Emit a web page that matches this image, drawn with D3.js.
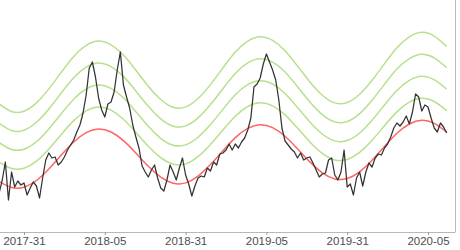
<!DOCTYPE html>
<html>
<head>
<meta charset="utf-8">
<script src="https://cdn.jsdelivr.net/npm/d3@7"></script>
<style>
  html, body { margin: 0; padding: 0; background: #fff; }
  svg { display: block; }
</style>
</head>
<body>
<svg id="chart" width="460" height="250"></svg>
<script>
// ---- data (week index 0 = 2017-31) ----
const tickLabels = ["2017-31", "2018-05", "2018-31", "2019-05", "2019-31", "2020-05"];
const tickWeeks = [0, 26, 52, 78, 104, 130];

// observed weekly series, starting at week index -8
const obsStart = -8;
const observed = [
  39, 52, 70, 32, 60, 45, 51, 47, 49, 37, 44, 50, 46, 34, 54, 72,
  79, 74, 75, 67, 70, 75, 82, 87, 92, 100, 107, 119, 137, 164, 170, 155,
  134, 122, 115, 128, 130, 140, 162, 180, 147, 135, 124, 107, 95, 84, 66, 60,
  55, 62, 67, 54, 44, 41, 52, 67, 60, 52, 64, 74, 57, 48, 36, 46,
  54, 56, 55, 64, 61, 70, 67, 78, 79, 82, 88, 82, 88, 84, 90, 94,
  102, 114, 145, 148, 154, 168, 178, 170, 162, 152, 132, 104, 91, 87, 83, 80,
  74, 79, 72, 74, 75, 69, 62, 55, 58, 59, 72, 74, 57, 52, 60, 82,
  45, 48, 37, 54, 60, 46, 60, 69, 65, 74, 78, 77, 84, 88, 95, 104,
  109, 106, 110, 116, 108, 120, 138, 135, 121, 127, 125, 114, 104, 100, 109, 105,
  99
];

// seasonal baseline and thresholds, sampled every 4 weeks from week index -8
const curveStart = -8;
const curveStep = 4;
const baseline = [50.5, 44.5, 44.8, 51.5, 63.1, 76.9, 90.0, 99.4, 103.0, 100.0, 91.4, 78.9, 65.7, 54.9, 48.8, 49.1, 55.9, 67.4, 81.2, 94.4, 103.7, 107.3, 104.4, 95.7, 83.2, 70.1, 59.2, 53.1, 53.5, 60.2, 71.7, 85.6, 98.7, 108.0, 111.7, 108.7, 100.0];
const threshold1 = [69.9, 63.5, 63.8, 70.9, 83.1, 97.6, 111.4, 121.2, 125.0, 121.8, 112.8, 99.6, 85.7, 74.3, 67.8, 68.1, 75.3, 87.4, 101.9, 115.8, 125.5, 129.3, 126.2, 117.1, 103.9, 90.1, 78.6, 72.1, 72.5, 79.6, 91.7, 106.3, 120.1, 129.8, 133.7, 130.5, 121.4];
const threshold2 = [89.3, 82.5, 82.8, 90.3, 103.1, 118.3, 132.8, 143.0, 147.0, 143.6, 134.2, 120.3, 105.7, 93.7, 86.8, 87.1, 94.7, 107.4, 122.6, 137.2, 147.3, 151.3, 148.0, 138.5, 124.6, 110.1, 98.0, 91.1, 91.5, 99.0, 111.7, 127.0, 141.5, 151.6, 155.7, 152.3, 142.8];
const threshold3 = [108.7, 101.5, 101.8, 109.7, 123.1, 139.0, 154.2, 164.8, 169.0, 165.4, 155.6, 141.0, 125.7, 113.1, 105.8, 106.1, 114.1, 127.4, 143.3, 158.6, 169.1, 173.3, 169.8, 159.9, 145.3, 130.1, 117.4, 110.1, 110.5, 118.4, 131.7, 147.7, 162.9, 173.4, 177.7, 174.1, 164.2];
const threshold4 = [128.1, 120.5, 120.8, 129.1, 143.1, 159.7, 175.6, 186.6, 191.0, 187.2, 177.0, 161.7, 145.7, 132.5, 124.8, 125.1, 133.5, 147.4, 164.0, 180.0, 190.9, 195.3, 191.6, 181.3, 166.0, 150.1, 136.8, 129.1, 129.5, 137.8, 151.7, 168.4, 184.3, 195.2, 199.7, 195.9, 185.6];

// ---- drawing ----
const svg = d3.select("#chart");
const panelRight = 455.5, panelBottom = 232;

const x = d3.scaleLinear().domain([0, 130]).range([24, 428]);
const y = d3.scaleLinear().domain([0, 232]).range([panelBottom, 0]);

const obsData = observed.map((v, k) => ({ w: obsStart + k, v }));
const toCurve = arr => arr.map((v, k) => ({ w: curveStart + k * curveStep, v }));

const smooth = d3.line().x(d => x(d.w)).y(d => y(d.v)).curve(d3.curveNatural);
const straight = d3.line().x(d => x(d.w)).y(d => y(d.v));

const g = svg.append("g");

[threshold1, threshold2, threshold3, threshold4].forEach(t => {
  g.append("path")
    .attr("d", smooth(toCurve(t)))
    .attr("fill", "none")
    .attr("stroke", "#b8e08e")
    .attr("stroke-width", 1.5);
});

g.append("path")
  .attr("d", smooth(toCurve(baseline)))
  .attr("fill", "none")
  .attr("stroke", "#ff6565")
  .attr("stroke-width", 1.5);

g.append("path")
  .attr("d", straight(obsData))
  .attr("fill", "none")
  .attr("stroke", "#333")
  .attr("stroke-width", 1.25)
  .attr("stroke-linejoin", "round");

// panel border (right side visible)
svg.append("line")
  .attr("x1", panelRight).attr("x2", panelRight)
  .attr("y1", 0).attr("y2", panelBottom)
  .attr("stroke", "#b8b8b8").attr("stroke-width", 1);

// bottom axis
const xAxis = d3.axisBottom(x)
  .tickValues(tickWeeks)
  .tickFormat((d, k) => tickLabels[k])
  .tickSize(3)
  .tickSizeOuter(0);

const ax = svg.append("g")
  .attr("transform", `translate(0,${panelBottom})`)
  .call(xAxis);

ax.select(".domain")
  .attr("d", `M0,0.5H${panelRight}`)
  .attr("stroke", "#b8b8b8");
ax.selectAll(".tick line").attr("stroke", "#999");
ax.selectAll(".tick text")
  .attr("fill", "#4d4d4d")
  .attr("y", 5)
  .style("font-family", "'Liberation Sans', Arial, sans-serif")
  .style("font-size", "11.5px");
</script>
</body>
</html>
